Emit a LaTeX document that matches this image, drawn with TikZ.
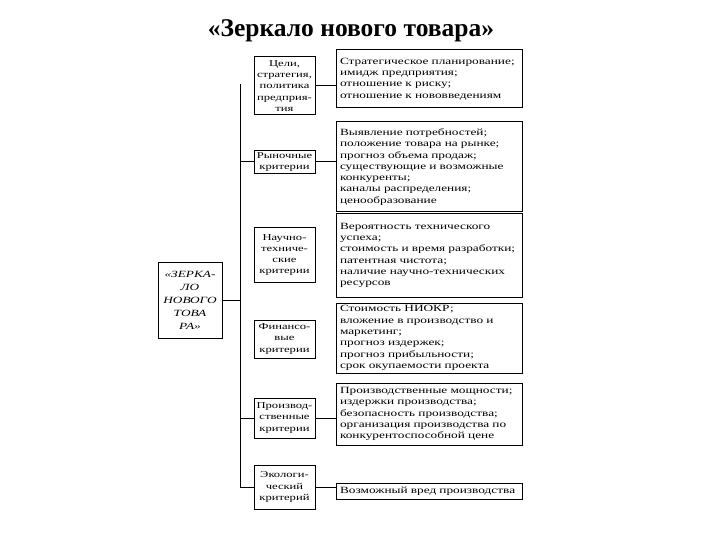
\documentclass[tikz,border=0pt]{standalone}
\usepackage{fontspec}
\setmainfont{Liberation Serif}
\newfontfamily\widefont[FakeStretch=1.4]{Liberation Serif}
\usepackage{tikz}

\begin{document}
\begin{tikzpicture}[x=1pt,y=-1pt,
  crit/.style={draw,line width=1pt,align=center,minimum width=61pt,inner sep=1pt,
    font=\widefont\fontsize{9}{11.3}\selectfont},
  descr/.style={draw,line width=1pt,align=left,minimum width=186pt,text width=178pt,inner sep=1pt,
    font=\widefont\fontsize{9.5}{11.3}\selectfont},
  link/.style={line width=1pt}]
\useasboundingbox (0,0) rectangle (720,540);

% Title
\node (title) at (351,31) {\fontsize{25.5}{29}\selectfont\bfseries «Зеркало нового товара»};

% Main box
\node[draw,line width=1pt,minimum width=64pt,minimum height=76pt,align=center,
  font=\widefont\fontsize{9.5}{13}\selectfont\itshape] (mirror) at (190,300)
  {«ЗЕРКА-\\ЛО\\НОВОГО\\ТОВА\\РА»};

% Criteria
\node[crit,minimum height=58pt] (goals) at (284.5,86) {Цели,\\стратегия,\\политика\\предприя-\\тия};
\node[crit,minimum height=23pt] (market) at (284.5,162) {Рыночные\\критерии};
\node[crit,minimum height=54pt] (tech) at (284.5,255) {Научно-\\техниче-\\ские\\критерии};
\node[crit,minimum height=38pt] (finance) at (284.5,339) {Финансо-\\вые\\критерии};
\node[crit,minimum height=40pt] (prod) at (284.5,418) {Производ-\\ственные\\критерии};
\node[crit,minimum height=44pt] (ecology) at (284.5,487) {Экологи-\\ческий\\критерий};

% Descriptions
\node[descr,minimum height=58pt] (goalsd) at (429,79) {Стратегическое планирование;\\имидж предприятия;\\отношение к риску;\\отношение к нововведениям};
\node[descr,minimum height=90pt] (marketd) at (429,167) {Выявление потребностей;\\положение товара на рынке;\\прогноз объема продаж;\\существующие и возможные\\конкуренты;\\каналы распределения;\\ценообразование};
\node[descr,minimum height=83pt] (techd) at (429,255.5) {Вероятность технического\\успеха;\\стоимость и время разработки;\\патентная чистота;\\наличие научно-технических\\ресурсов};
\node[descr,minimum height=70pt] (financed) at (429,338) {Стоимость НИОКР;\\вложение в производство и\\маркетинг;\\прогноз издержек;\\прогноз прибыльности;\\срок окупаемости проекта};
\node[descr,minimum height=62pt] (prodd) at (429,414) {Производственные мощности;\\издержки производства;\\безопасность производства;\\организация производства по\\конкурентоспособной цене};
\node[descr,minimum height=16pt] (ecologyd) at (429,491) {Возможный вред производства};

% Bus
\coordinate (bustop) at (240,84);
\coordinate (busbot) at (240,487);
\draw[link] (mirror.east) -- (mirror.east -| bustop);
\draw[link] (bustop) -- (busbot) -- (ecology.west);
\draw[link] (market.west -| bustop) -- (market.west);
\draw[link] (prod.west -| bustop) -- (prod.west);

% Links to descriptions
\draw[link] (goals.east) -- (goals.east -| goalsd.west);
\draw[link] (market.east) -- (market.east -| marketd.west);
\draw[link] (prod.east) -- (prod.east -| prodd.west);
\draw[link] (ecology.east) -- (ecology.east -| ecologyd.west);
\end{tikzpicture}
\end{document}
